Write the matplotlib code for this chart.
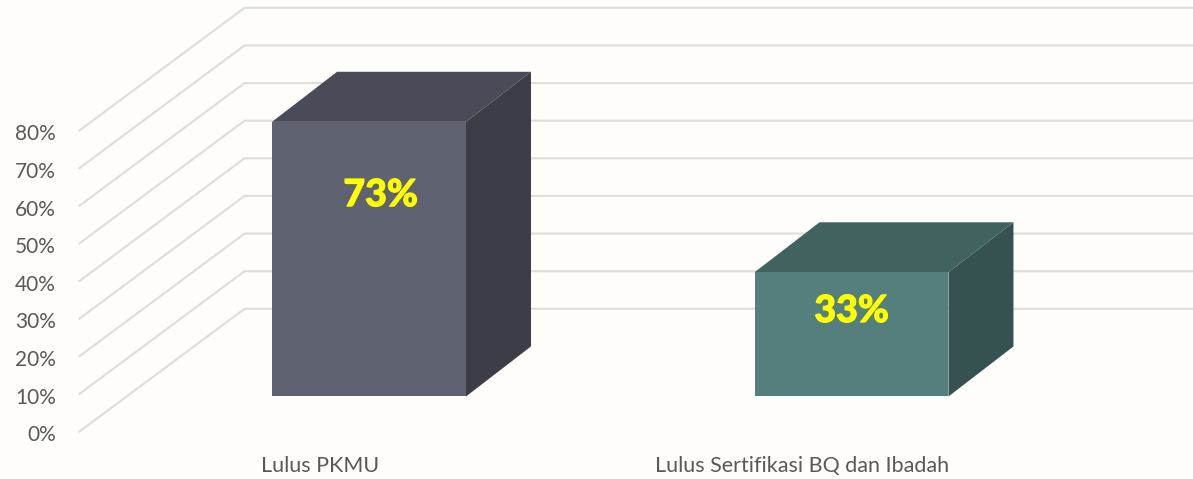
import matplotlib
matplotlib.use("Agg")
import matplotlib.pyplot as plt
import matplotlib.patheffects as pe
from matplotlib.patches import Polygon

categories = ["Lulus PKMU", "Lulus Sertifikasi BQ dan Ibadah"]
values = [73, 33]
data_labels = ["73%", "33%"]
tick_values = [0, 10, 20, 30, 40, 50, 60, 70, 80]

front_colors = ["#5F6271", "#557F7C"]
top_colors = ["#494C58", "#41635F"]
side_colors = ["#3D3D47", "#365250"]

BG = "#FEFDF9"
GRID = "#DEDDD9"
TEXT = "#595959"

plt.rcParams["font.family"] = ["Lato", "DejaVu Sans"]

fig = plt.figure(figsize=(11.93, 4.79), dpi=100, facecolor=BG)
ax = fig.add_axes([0, 0, 1, 1])
ax.set_xlim(-0.7648, 1.7078)
ax.set_ylim(-12.63, 114.68)
ax.axis("off")

# fake 3d: floor/wall offsets in data units
wall_x = -0.6
wall_dx = 0.342
wall_dy = 32.6
bar_w = 0.402
bar_dx = 0.1347
bar_dy = 13.3
base = 9.3
label_shift = [0.024, 0.0]

for v in tick_values:
    ax.plot(
        [wall_x, wall_x + wall_dx, 1.72],
        [v, v + wall_dy, v + wall_dy],
        color=GRID,
        lw=1.5,
        zorder=1,
        solid_joinstyle="miter",
    )
    ax.text(-0.649, v - 1.02, f"{v}%", ha="right", va="center", fontsize=15, color=TEXT)

for i, val in enumerate(values):
    x0 = i - bar_w / 2
    x1 = i + bar_w / 2
    top = base + val
    ax.add_patch(Polygon(
        [(x0, base), (x1, base), (x1, top), (x0, top)],
        closed=True, fc=front_colors[i], ec="none", zorder=3,
    ))
    ax.add_patch(Polygon(
        [(x0, top), (x1, top), (x1 + bar_dx, top + bar_dy), (x0 + bar_dx, top + bar_dy)],
        closed=True, fc=top_colors[i], ec="none", zorder=2,
    ))
    ax.add_patch(Polygon(
        [(x1, base), (x1 + bar_dx, base + bar_dy), (x1 + bar_dx, top + bar_dy), (x1, top)],
        closed=True, fc=side_colors[i], ec="none", zorder=2,
    ))
    label = ax.text(i + label_shift[i], 6.6 + 0.77 * val, data_labels[i], ha="center", va="center",
                    fontsize=27, fontweight=900, color="#FFFF00", zorder=4)
    # lato bold comes out thinner than the original, thicken a bit
    label.set_path_effects([pe.withStroke(linewidth=0.8, foreground="#FFFF00")])
    ax.text(i - 0.102, -9.2, categories[i], ha="center", va="center", fontsize=15.5, color=TEXT)

fig.savefig("out.png", dpi=100, facecolor=BG)
